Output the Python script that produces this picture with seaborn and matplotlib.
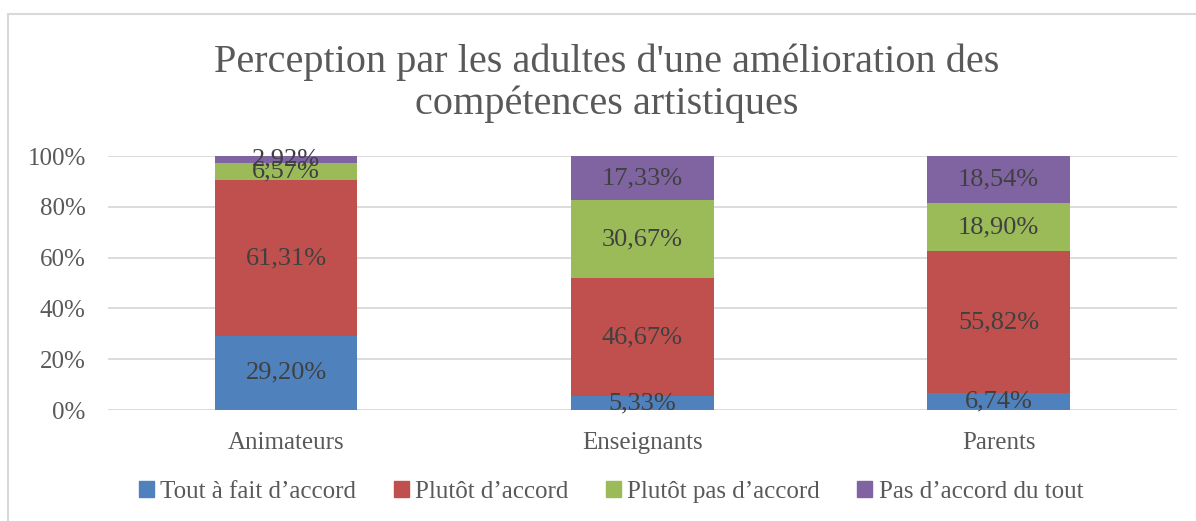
import numpy as np
import pandas as pd
import matplotlib
matplotlib.use('Agg')
import matplotlib.pyplot as plt
import matplotlib.patches as mpatches
import seaborn as sns

# donnees (en %)
groupes = ['Animateurs', 'Enseignants', 'Parents']
reponses = ['Tout à fait d’accord', 'Plutôt d’accord', 'Plutôt pas d’accord', 'Pas d’accord du tout']
tout_a_fait = [29.20, 5.33, 6.74]
plutot = [61.31, 46.67, 55.82]
plutot_pas = [6.57, 30.67, 18.90]
pas_du_tout = [2.92, 17.33, 18.54]
couleurs = ['#4F81BD', '#C0504D', '#9BBB59', '#8064A2']
titre = "Perception par les adultes d'une amélioration des\ncompétences artistiques"

series = [tout_a_fait, plutot, plutot_pas, pas_du_tout]

sns.set_theme(style='white')
plt.rcParams['font.family'] = ['Liberation Serif', 'DejaVu Serif']

fig = plt.figure(figsize=(11.96, 5.21), dpi=100)
ax = fig.add_axes([0.0903, 0.213, 0.8937, 0.4875])

# barres empilees : on dessine les cumuls du plus grand au plus petit
df = pd.DataFrame({'groupe': groupes})
cumul = np.cumsum(np.array(series), axis=0) / 100
for k in range(len(series) - 1, -1, -1):
    df['val'] = cumul[k]
    sns.barplot(data=df, x='groupe', y='val', color=couleurs[k], width=0.4,
                saturation=1, ax=ax, zorder=3, linewidth=0)

# etiquettes des valeurs
for k, serie in enumerate(series):
    for i, v in enumerate(serie):
        bas = cumul[k][i] - v / 100
        txt = f'{v:.2f}%'.replace('.', ',')
        ax.text(i, bas + v / 200, txt, ha='center', va='center',
                fontsize=19, color='#404040', zorder=5)

ax.set_ylim(0, 1)
ax.set_xlim(-0.5, 2.5)
ax.set_yticks(np.arange(0, 1.01, 0.2))
ax.set_yticklabels([f'{int(t*100)}%' for t in np.arange(0, 1.01, 0.2)])
ax.yaxis.grid(True, color='#D9D9D9', linewidth=1.3, zorder=0)
ax.xaxis.grid(False)
for s in ax.spines.values():
    s.set_visible(False)
ax.set_xlabel('')
ax.set_ylabel('')
ax.tick_params(axis='both', labelsize=18, colors='#595959', length=0)
ax.tick_params(axis='y', pad=16)
ax.tick_params(axis='x', pad=16)

fig.text(0.507, 1 - 83 / 521, titre, ha='center', va='center',
         fontsize=29, color='#595959', linespacing=1.17)

poignees = [mpatches.Patch(color=c, label=l) for c, l in zip(couleurs, reponses)]
fig.legend(handles=poignees, loc='center', bbox_to_anchor=(0.511, 1 - 492 / 521),
           ncol=4, frameon=False, fontsize=18, labelcolor='#595959',
           handlelength=0.6, handleheight=0.6, handletextpad=0.25, columnspacing=1.5)

# cadre du graphique
fig.patches.append(mpatches.Rectangle((8 / 1196, -0.05), 1.1, 1 - 14 / 521 + 0.05,
                                      transform=fig.transFigure, fill=False,
                                      edgecolor='#D9D9D9', linewidth=1.5))

fig.savefig('out.png', dpi=100)
